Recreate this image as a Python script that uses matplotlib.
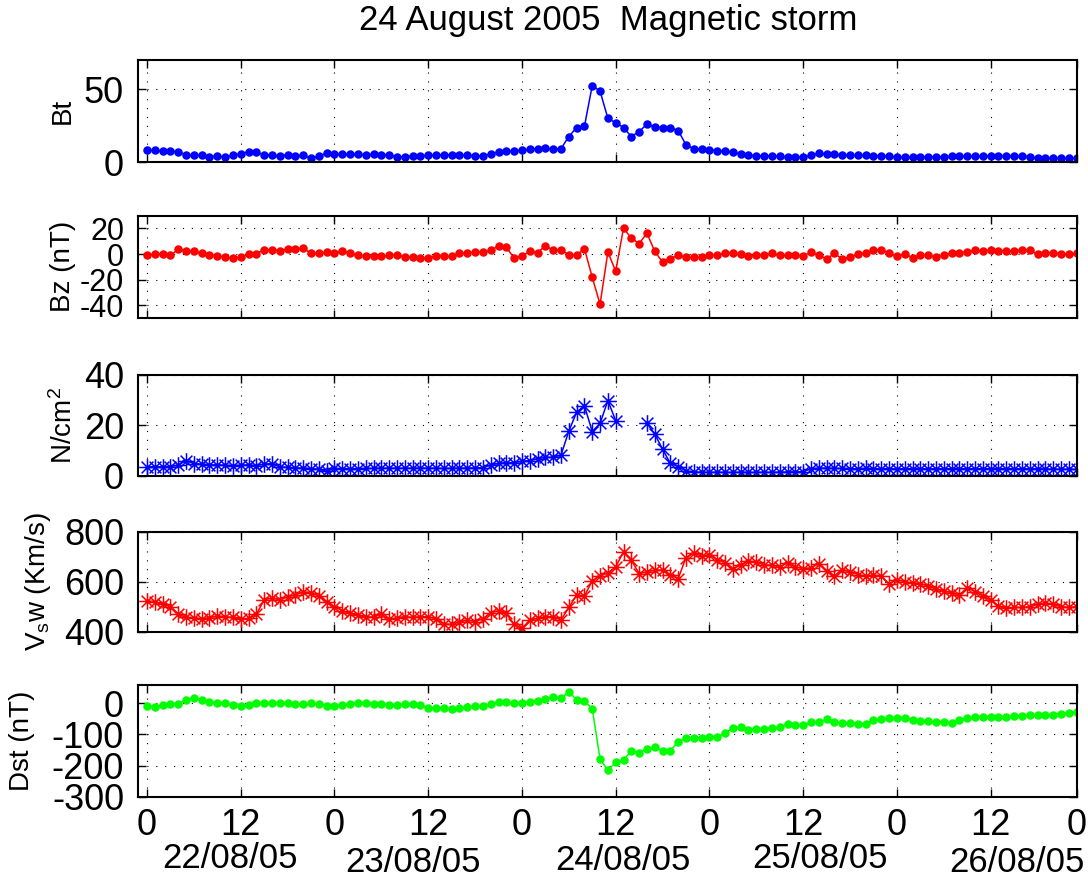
#!/usr/bin/env python3
import matplotlib
matplotlib.use("Agg")
import matplotlib.pyplot as plt
import matplotlib.transforms as mtransforms
from matplotlib.path import Path
import numpy as np

matplotlib.rcParams['font.family'] = ['Liberation Sans', 'DejaVu Sans']
matplotlib.rcParams['mathtext.fontset'] = 'custom'
matplotlib.rcParams['mathtext.rm'] = 'Liberation Sans'
matplotlib.rcParams['mathtext.it'] = 'Liberation Sans'
matplotlib.rcParams['axes.unicode_minus'] = False

# hours since 22/08/05 00:00, one value per hour
hours = np.arange(120)

bt = [8.2, 8.0, 7.3, 7.7, 7.0, 5.0, 4.5, 4.5, 3.6, 3.9,
      3.6, 4.5, 5.7, 7.0, 6.6, 4.8, 4.5, 3.9, 5.0, 4.3,
      4.5, 2.5, 4.1, 6.1, 5.7, 5.2, 5.2, 5.2, 5.0, 5.2,
      5.0, 4.8, 3.2, 3.6, 4.1, 4.1, 4.5, 4.5, 4.8, 4.8,
      4.5, 4.5, 4.3, 4.1, 5.7, 7.0, 7.3, 7.5, 8.2, 8.6,
      8.9, 9.5, 8.6, 9.1, 17.5, 23.6, 24.5, 52.5, 48.6, 30.0,
      27.0, 23.6, 17.5, 20.9, 25.9, 24.3, 23.6, 23.6, 21.6, 11.8,
      9.1, 8.6, 8.4, 7.7, 7.3, 6.6, 5.5, 4.5, 4.3, 4.1,
      4.1, 3.9, 3.6, 3.4, 3.4, 4.5, 5.9, 5.5, 5.2, 4.8,
      4.8, 4.5, 4.5, 4.3, 4.3, 4.1, 3.2, 3.2, 3.2, 3.2,
      3.4, 3.4, 3.6, 3.9, 3.9, 3.9, 3.9, 3.9, 4.1, 4.1,
      4.1, 3.9, 3.9, 3.6, 2.7, 2.7, 2.7, 2.5, 2.5, 2.7]

bz = [-1.0, 0.0, 0.0, -1.0, 3.7, 2.4, 2.1, 0.5, -0.5, -1.3,
      -2.6, -3.4, -2.4, 0.0, 0.3, 3.4, 3.2, 2.6, 3.9, 3.9,
      4.7, 0.5, 0.5, 1.6, 0.8, 2.4, 0.8, -1.0, -1.8, -1.8,
      -1.8, -1.0, -0.8, -2.1, -2.6, -3.4, -3.2, -1.3, -1.8, -1.8,
      0.5, 1.0, 1.3, 1.6, 2.9, 6.3, 5.3, -3.2, -1.3, 2.1,
      1.0, 6.6, 2.9, 3.2, -0.5, -0.8, 4.2, -18.2, -39.2, 1.6,
      -13.4, 20.3, 12.4, 8.2, 16.3, 2.1, -6.3, -3.7, -0.8, -2.6,
      -2.6, -2.6, -0.5, -1.0, 0.8, 0.8, -0.3, -1.6, -1.0, -0.5,
      0.5, -1.0, -1.0, -1.0, -1.3, 1.3, -1.0, -3.9, 0.5, -3.9,
      -2.4, 0.3, 0.5, 2.9, 3.4, 0.5, -1.6, 0.0, -2.9, -1.0,
      -1.0, -2.4, -0.8, 0.8, 1.0, 1.8, 2.9, 2.1, 2.9, 2.6,
      2.6, 2.6, 3.2, 2.9, 0.0, 1.0, 1.0, 0.3, 0.0, 0.5]

density = [3.5, 3.6, 3.5, 3.6, 4.2, 6.0, 4.8, 4.6, 4.3, 4.3,
           4.2, 4.0, 4.2, 4.3, 4.0, 4.6, 4.8, 3.5, 3.3, 3.0,
           3.1, 2.8, 2.6, 1.8, 2.9, 2.8, 2.8, 2.8, 2.9, 2.9,
           3.0, 3.0, 3.0, 3.0, 3.0, 3.0, 3.0, 3.0, 2.9, 2.9,
           3.0, 3.0, 3.1, 3.2, 4.2, 4.9, 5.2, 5.2, 5.7, 6.0,
           6.8, 7.3, 7.3, 8.2, 17.7, 25.2, 27.8, 17.5, 20.8, 29.8,
           21.9, np.nan, np.nan, np.nan, 20.8, 16.6, 10.5, 4.9, 3.6, 1.9,
           1.5, 1.4, 1.3, 1.4, 1.3, 1.3, 1.4, 1.3, 1.3, 1.4,
           1.3, 1.4, 1.5, 1.5, 1.6, 2.8, 3.0, 3.0, 2.9, 2.9,
           2.8, 2.8, 2.9, 2.8, 2.8, 2.8, 2.7, 2.8, 2.8, 2.8,
           2.7, 2.8, 2.8, 2.8, 2.8, 2.8, 2.8, 2.8, 2.8, 2.8,
           2.8, 2.8, 2.7, 2.8, 2.7, 2.7, 2.6, 2.6, 2.6, 2.5]

vsw = [523, 520, 509, 500, 471, 457, 456, 452, 456, 463,
       460, 457, 449, 453, 469, 527, 536, 527, 540, 547,
       560, 556, 543, 520, 500, 484, 473, 467, 457, 460,
       469, 449, 456, 460, 457, 460, 460, 451, 431, 429,
       439, 447, 440, 452, 476, 484, 473, 429, 413, 447,
       453, 460, 460, 447, 497, 547, 543, 604, 623, 636,
       660, 720, 687, 633, 640, 647, 647, 627, 613, 697,
       716, 703, 709, 689, 676, 653, 667, 683, 680, 667,
       667, 660, 676, 660, 653, 656, 673, 643, 623, 649,
       640, 629, 623, 627, 623, 591, 609, 600, 596, 593,
       583, 571, 563, 556, 547, 577, 560, 543, 527, 503,
       493, 497, 497, 500, 509, 516, 509, 500, 497, 500]

dst = [-9, -11, -4, -1, -1, 11, 16, 12, 3, 2,
       0, -7, -9, -5, 0, 2, 0, 1, 1, -2,
       -3, 0, -2, -8, -9, -5, -2, 1, 2, -1,
       -3, -4, -5, -2, -2, -7, -14, -16, -15, -17,
       -15, -12, -9, -10, -2, 4, 4, 0, 0, 5,
       8, 14, 20, 16, 37, 11, 7, -17, -180, -215,
       -190, -183, -152, -159, -147, -142, -152, -152, -123, -113,
       -112, -110, -107, -108, -96, -79, -77, -85, -84, -83,
       -79, -76, -68, -71, -70, -61, -60, -52, -61, -63,
       -64, -65, -65, -55, -50, -48, -48, -47, -53, -58,
       -57, -60, -60, -62, -55, -47, -45, -43, -43, -43,
       -43, -42, -41, -38, -37, -36, -36, -33, -30, -29]

xtick_pos = [0, 12, 24, 36, 48, 60, 72, 84, 96, 108, 119]
xtick_labels = ['0', '12', '0', '12', '0', '12', '0', '12', '0', '12', '0']
date_labels = ['22/08/05', '23/08/05', '24/08/05', '25/08/05', '26/08/05']
date_pos = [10.6, 34.0, 60.9, 86.1, 111.3]
date_y = [0.025, 0.020, 0.022, 0.025, 0.020]

# MATLAB style asterisk: four strokes through the centre
_a = np.sqrt(0.5)
asterisk = Path([(-1, 0), (1, 0), (0, -1), (0, 1),
                 (-_a, -_a), (_a, _a), (-_a, _a), (_a, -_a)],
                [Path.MOVETO, Path.LINETO] * 4)

fig = plt.figure(figsize=(10.88, 8.8), dpi=100)

left, width = 0.1268, 0.8631
rects = [(left, 0.8159, width, 0.1159),
         (left, 0.6386, width, 0.1163),
         (left, 0.4594, width, 0.1145),
         (left, 0.2822, width, 0.1133),
         (left, 0.0947, width, 0.1273)]

panels = [
    (bt, 'b', '.', 10, 'Bt', (0, 70), [0, 50], -0.066, 26),
    (bz, 'r', '.', 10, 'Bz (nT)', (-50, 30), [-40, -20, 0, 20], -0.066, 22),
    (density, 'b', asterisk, 12, r'N/cm$^2$', (0, 40), [0, 20, 40], -0.064, 26),
    (vsw, 'r', asterisk, 12, r'V$_\mathrm{s}$w (Km/s)', (400, 800), [400, 600, 800], -0.090, 26),
    (dst, '#00ff00', '.', 10, 'Dst (nT)', (-300, 60), [-300, -200, -100, 0], -0.110, 26),
]

axes = []
for rect, (vals, col, mk, ms, lab, ylim, yt, lx, tfs) in zip(rects, panels):
    ax = fig.add_axes(rect)
    ax.plot(hours, vals, color=col, marker=mk, markersize=ms, linewidth=1.1,
            markeredgewidth=1.1)
    ax.set_xlim(-1.15, 119.05)
    ax.set_ylim(*ylim)
    ax.set_yticks(yt)
    ax.set_xticks(xtick_pos)
    ax.set_ylabel(lab, fontsize=20)
    ax.yaxis.set_label_coords(lx, 0.5)
    ax.grid(True, color='k', linestyle=(0, (1, 7)), linewidth=0.8)
    ax.tick_params(direction='in', top=True, right=True, length=6, width=1,
                   labelsize=26, pad=10)
    ax.tick_params(axis='y', labelsize=tfs)
    ax.tick_params(axis='x', pad=8)
    for s in ax.spines.values():
        s.set_linewidth(1.5)
    ax.set_xticklabels([])
    axes.append(ax)

ax5 = axes[-1]
ax5.set_xticklabels(xtick_labels)

trans = mtransforms.blended_transform_factory(ax5.transData, fig.transFigure)
for d, x, y in zip(date_labels, date_pos, date_y):
    ax5.text(x, y, d, transform=trans, ha='center', va='center', fontsize=25)

fig.text(0.559, 0.977, '24 August 2005  Magnetic storm', ha='center',
         va='center', fontsize=25)

fig.savefig('out.png', dpi=100)
